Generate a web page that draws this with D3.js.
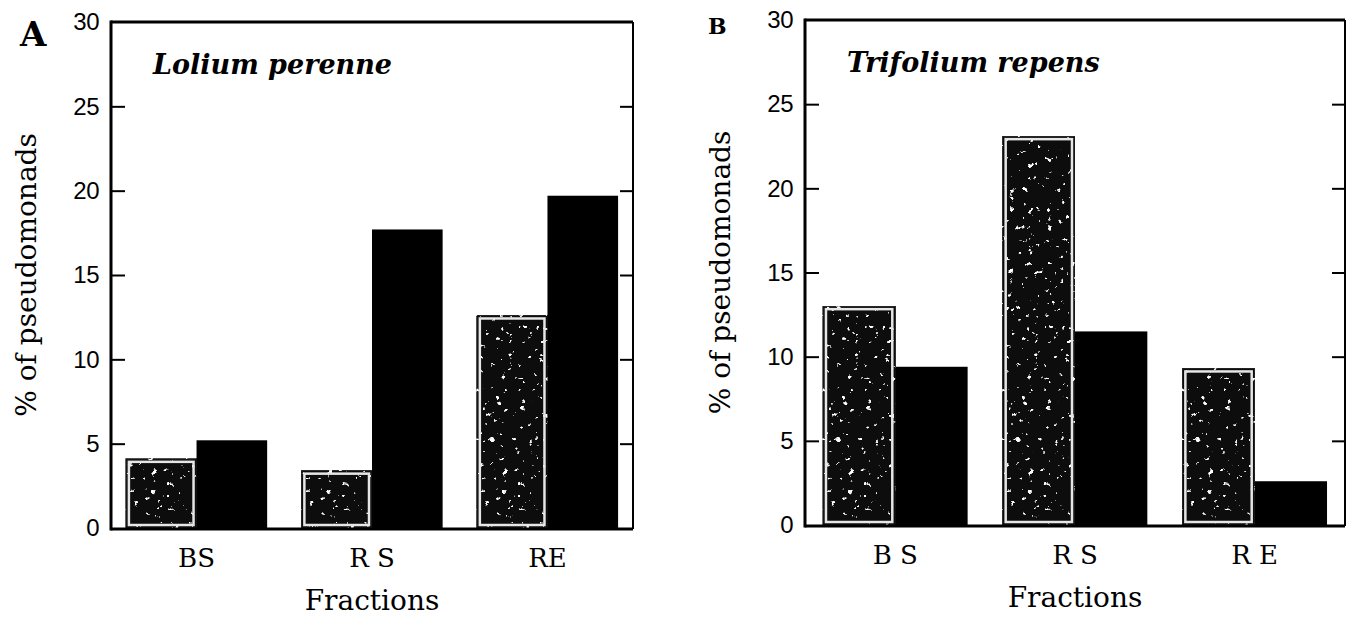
<!DOCTYPE html>
<html>
<head>
<meta charset="utf-8">
<script src="https://cdn.jsdelivr.net/npm/d3@7"></script>
<style>
  body { margin: 0; background: #fff; }
  svg { display: block; }
</style>
</head>
<body>
<div id="chart"></div>
<script>
var svgWidth = 1346;
var svgHeight = 617;

// values (% of pseudomonads)
var yTicks = [0, 5, 10, 15, 20, 25, 30];
var seriesKeys = ["speckled", "solid"];

var fractionsA = ["BS", "R S", "RE"];
var loliumSpeckled = [4.1, 3.4, 12.6];
var loliumSolid = [5.2, 17.7, 19.7];

var fractionsB = ["B S", "R S", "R E"];
var trifoliumSpeckled = [13.0, 23.1, 9.3];
var trifoliumSolid = [9.4, 11.5, 2.6];

var serif = "'Palatino Linotype', Palatino, 'DejaVu Serif', serif";
var sans = "'Liberation Sans', Arial, sans-serif";

var svg = d3.select("#chart")
  .append("svg")
  .attr("width", svgWidth)
  .attr("height", svgHeight);

// speckle texture for the grey bars
var defs = svg.append("defs");
var speckle = defs.append("filter")
  .attr("id", "speckle")
  .attr("x", 0).attr("y", 0).attr("width", 1).attr("height", 1);
speckle.append("feTurbulence")
  .attr("type", "fractalNoise")
  .attr("baseFrequency", 0.16)
  .attr("numOctaves", 3)
  .attr("seed", 11)
  .attr("result", "noise");
speckle.append("feColorMatrix")
  .attr("in", "noise")
  .attr("type", "matrix")
  .attr("values", "0 0 0 0 1  0 0 0 0 1  0 0 0 0 1  16 0 0 0 -11.2")
  .attr("result", "spots");
speckle.append("feComposite")
  .attr("in", "spots").attr("in2", "SourceGraphic")
  .attr("operator", "in").attr("result", "clipped");
var merge = speckle.append("feMerge");
merge.append("feMergeNode").attr("in", "SourceGraphic");
merge.append("feMergeNode").attr("in", "clipped");

function drawPanel(p) {
  var rows = p.cats.map(function(c, i) {
    return { cat: c, speckled: p.speckled[i], solid: p.solid[i] };
  });

  var x0 = d3.scaleBand()
    .domain(p.cats)
    .range([p.left, p.right])
    .paddingInner(0.195)
    .paddingOuter(p.outer);

  var x1 = d3.scaleBand()
    .domain(seriesKeys)
    .range([0, x0.bandwidth()]);

  var y = d3.scaleLinear()
    .domain([0, 30])
    .range([p.bottom, p.top]);

  var g = svg.append("g");

  // bars
  var groups = g.selectAll(".grp")
    .data(rows)
    .enter()
    .append("g")
    .attr("transform", function(d) { return "translate(" + x0(d.cat) + ",0)"; });

  groups.append("rect")
    .attr("x", x1("speckled"))
    .attr("y", function(d) { return y(d.speckled); })
    .attr("width", x1.bandwidth())
    .attr("height", function(d) { return y(0) - y(d.speckled); })
    .attr("fill", "#080808")
    .attr("stroke", "#222")
    .attr("stroke-width", 1.2)
    .attr("filter", "url(#speckle)");

  groups.append("rect")
    .attr("x", x1("speckled") + 3)
    .attr("y", function(d) { return y(d.speckled) + 3; })
    .attr("width", x1.bandwidth() - 6)
    .attr("height", function(d) { return y(0) - y(d.speckled) - 6; })
    .attr("fill", "none")
    .attr("stroke", "#e6e6e6")
    .attr("stroke-width", 2.5);

  groups.append("rect")
    .attr("x", x1("solid"))
    .attr("y", function(d) { return y(d.solid); })
    .attr("width", x1.bandwidth())
    .attr("height", function(d) { return y(0) - y(d.solid); })
    .attr("fill", "#000");

  // left axis, ticks pointing inward
  var leftAxis = d3.axisLeft(y)
    .tickValues(yTicks)
    .tickSize(-14)
    .tickPadding(12)
    .tickFormat(d3.format("d"));

  var la = g.append("g")
    .attr("transform", "translate(" + p.left + ",0)")
    .call(leftAxis);
  la.select(".domain").remove();
  la.selectAll("line")
    .attr("stroke", "#000")
    .attr("stroke-width", 2)
    .attr("display", function(d) { return (d === 0 || d === 30) ? "none" : null; });
  la.selectAll("text")
    .attr("font-family", sans)
    .attr("font-size", 24)
    .attr("letter-spacing", -0.5)
    .attr("fill", "#000");

  var rightAxis = d3.axisRight(y)
    .tickValues(yTicks.slice(1, -1))
    .tickSize(-13)
    .tickFormat("");
  var ra = g.append("g")
    .attr("transform", "translate(" + p.right + ",0)")
    .call(rightAxis);
  ra.select(".domain").remove();
  ra.selectAll("line").attr("stroke", "#000").attr("stroke-width", 2);

  // frame
  g.append("line")
    .attr("x1", p.left).attr("x2", p.left)
    .attr("y1", p.top - 1.5).attr("y2", p.bottom + 2.5)
    .attr("stroke", "#000").attr("stroke-width", 3);
  g.append("line")
    .attr("x1", p.left).attr("x2", p.right)
    .attr("y1", p.top).attr("y2", p.top)
    .attr("stroke", "#000").attr("stroke-width", 3);
  g.append("line")
    .attr("x1", p.left).attr("x2", p.right)
    .attr("y1", p.bottom + 1).attr("y2", p.bottom + 1)
    .attr("stroke", "#000").attr("stroke-width", 3);
  g.append("line")
    .attr("x1", p.right).attr("x2", p.right)
    .attr("y1", p.top).attr("y2", p.bottom + 1)
    .attr("stroke", "#000").attr("stroke-width", 2);

  // category labels
  g.selectAll(".cat")
    .data(p.cats)
    .enter()
    .append("text")
    .attr("x", function(d) { return x0(d) + x0.bandwidth() / 2; })
    .attr("y", p.bottom + 39)
    .attr("text-anchor", "middle")
    .attr("font-family", serif)
    .attr("font-size", 26)
    .text(function(d) { return d; });

  // axis titles
  g.append("text")
    .attr("x", (p.left + p.right) / 2)
    .attr("y", p.bottom + 82)
    .attr("text-anchor", "middle")
    .attr("font-family", serif)
    .attr("font-size", 28)
    .text("Fractions");

  g.append("text")
    .attr("transform", "translate(" + p.yLabelX + "," + (p.top + p.bottom) / 2 + ") rotate(-90)")
    .attr("text-anchor", "middle")
    .attr("font-family", serif)
    .attr("font-size", 28)
    .text("% of pseudomonads");

  // species title
  g.append("text")
    .attr("x", p.left + 42)
    .attr("y", p.top + 52)
    .attr("font-family", serif)
    .attr("font-style", "italic")
    .attr("font-weight", "bold")
    .attr("font-size", 27)
    .text(p.title);

  // panel letter
  g.append("text")
    .attr("x", p.letterX)
    .attr("y", p.letterY)
    .attr("font-family", serif)
    .attr("font-weight", "bold")
    .attr("font-size", p.letterSize)
    .text(p.letter);
}

drawPanel({
  letter: "A", letterX: 20, letterY: 46, letterSize: 34,
  title: "Lolium perenne",
  cats: fractionsA, speckled: loliumSpeckled, solid: loliumSolid,
  left: 111, right: 633, top: 22, bottom: 528, outer: 0.085,
  yLabelX: 36
});

drawPanel({
  letter: "B", letterX: 708, letterY: 34, letterSize: 22,
  title: "Trifolium repens",
  cats: fractionsB, speckled: trifoliumSpeckled, solid: trifoliumSolid,
  left: 805, right: 1345, top: 20, bottom: 525, outer: 0.1,
  yLabelX: 730
});
</script>
</body>
</html>
